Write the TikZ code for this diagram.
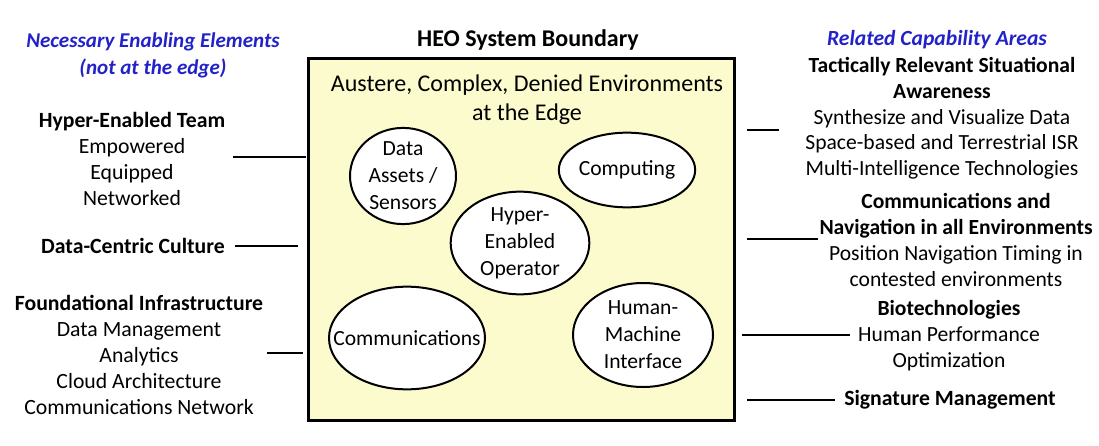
\documentclass[tikz,border=0pt]{standalone}
\usepackage{fontspec}
\setmainfont{Carlito}
\usetikzlibrary{shapes.geometric}
\definecolor{boxfill}{HTML}{FCFBCD}
\definecolor{headblue}{HTML}{2222C8}
\begin{document}
\begin{tikzpicture}[x=0.75pt,y=-0.75pt,
  txt/.style={align=center,inner sep=0pt,font=\fontsize{16.3}{19.5}\selectfont},
  rtxt/.style={align=center,inner sep=0pt,font=\fontsize{16.2}{19.3}\selectfont},
  boldtxt/.style={align=center,inner sep=0pt,font=\fontsize{16.3}{19.5}\selectfont\bfseries},
  head/.style={align=center,inner sep=0pt,text=headblue,font=\fontsize{15.8}{20.25}\selectfont\bfseries\itshape},
  oval/.style={ellipse,draw,line width=1.5pt,fill=white,inner sep=0pt,align=center,font=\fontsize{16.2}{20.25}\selectfont},
  conn/.style={line width=1pt}]
\useasboundingbox (0,0) rectangle (1099,446);
% headings
\node[head] (lefthead) at (153,55.5) {Necessary Enabling Elements\\(not at the edge)};
\node[boldtxt,font=\fontsize{18}{20}\selectfont\bfseries] (title) at (528,40) {HEO System Boundary};
\node[head,font=\fontsize{16.2}{20}\selectfont\bfseries\itshape] (righthead) at (937,40) {Related Capability Areas};
% boundary box
\node[draw,line width=2.25pt,fill=boxfill,minimum width=320pt,minimum height=271pt,inner sep=0pt] (box) at (521.5,239.5) {};
\node[txt,font=\fontsize{18}{21.75}\selectfont] (edge) at (527,99.5) {Austere, Complex, Denied Environments\\at the Edge};
% ovals
\node[oval,minimum width=79.5pt,minimum height=72pt] (data) at (403,176) {Data\\Assets /\\Sensors};
\node[oval,minimum width=91pt,minimum height=56pt] (comp) at (627,170) {Computing};
\node[oval,minimum width=104pt,minimum height=77pt] (heo) at (520,243) {Hyper-\\Enabled\\Operator};
\node[oval,minimum width=117pt,minimum height=77pt,inner xsep=-16pt] (comm) at (407,338) {Communications};
\node[oval,minimum width=105pt,minimum height=78pt] (hmi) at (643,335) {Human-\\Machine\\Interface};
% left texts
\node[txt] (het) at (132,158.5) {\textbf{Hyper-Enabled Team}\\Empowered\\Equipped\\Networked};
\node[boldtxt] (dcc) at (133,246) {Data-Centric Culture};
\node[txt] (fi) at (139,354.5) {\textbf{Foundational Infrastructure}\\Data Management\\Analytics\\Cloud Architecture\\Communications Network};
% right texts
\node[rtxt] (trsa) at (942,118.5) {\textbf{Tactically Relevant Situational}\\\textbf{Awareness}\\Synthesize and Visualize Data\\Space-based and Terrestrial ISR\\Multi-Intelligence Technologies};
\node[rtxt] (cnav) at (956,240) {\textbf{Communications and}\\\textbf{Navigation in all Environments}\\Position Navigation Timing in\\contested environments};
\node[rtxt] (bio) at (949,335.5) {\textbf{Biotechnologies}\\Human Performance\\Optimization};
\node[boldtxt] (sig) at (950,400) {Signature Management};
% connector ends
\coordinate (l1a) at (233,157); \coordinate (l1b) at (306,157);
\coordinate (l2a) at (235,246); \coordinate (l2b) at (298,246);
\coordinate (l3a) at (267,353); \coordinate (l3b) at (303,353);
\coordinate (r1a) at (747,130); \coordinate (r1b) at (779,130);
\coordinate (r2a) at (747,239); \coordinate (r2b) at (818,239);
\coordinate (r3a) at (742,335); \coordinate (r3b) at (850,335);
\coordinate (r4a) at (747,400); \coordinate (r4b) at (835,400);
\draw[conn] (l1a) -- (l1b);
\draw[conn] (l2a) -- (l2b);
\draw[conn] (l3a) -- (l3b);
\draw[conn] (r1a) -- (r1b);
\draw[conn] (r2a) -- (r2b);
\draw[conn] (r3a) -- (r3b);
\draw[conn] (r4a) -- (r4b);
\end{tikzpicture}
\end{document}
